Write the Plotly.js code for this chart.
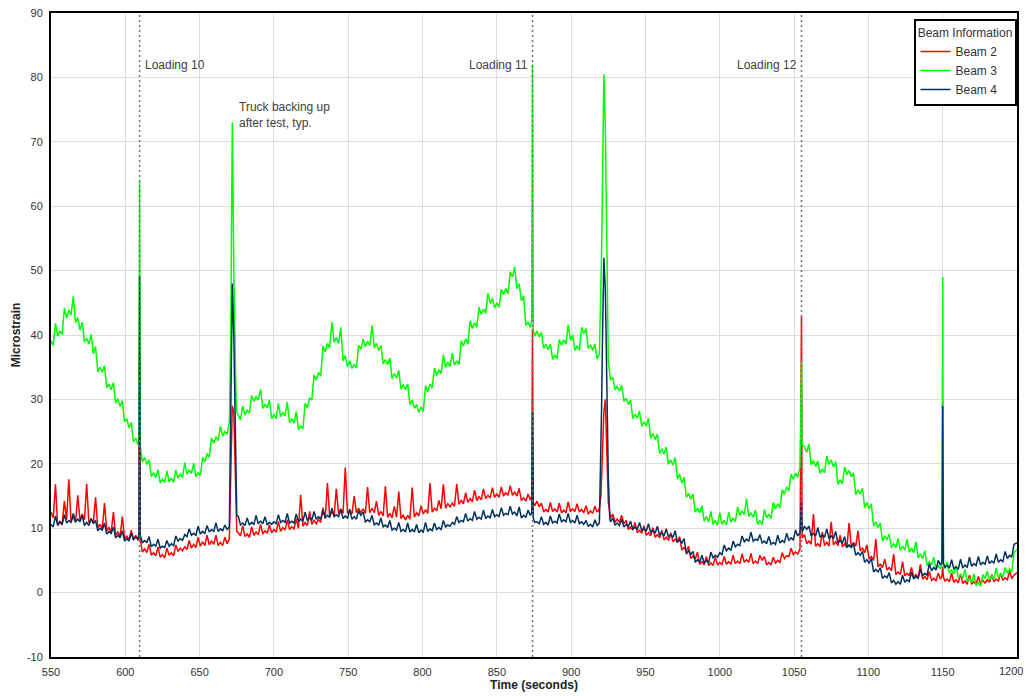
<!DOCTYPE html>
<html>
<head>
<meta charset="utf-8">
<script src="https://cdn.plot.ly/plotly-3.0.1.min.js"></script>
<style>
html,body{margin:0;padding:0;background:#fff;}
#chart{width:1026px;height:696px;}
</style>
</head>
<body>
<div id="chart"></div>
<script>
// ---- data (time in seconds, values in microstrain) ----
const time = [
550,553,556,559,562,565,568,571,574,577,
580,583,586,589,592,595,598,601,604,607,
610,613,616,619,622,625,628,631,634,637,
640,643,646,649,652,655,658,661,664,667,
670,673,676,679,682,685,688,691,694,697,
700,703,706,709,712,715,718,721,724,727,
730,733,736,739,742,745,748,751,754,757,
760,763,766,769,772,775,778,781,784,787,
790,793,796,799,802,805,808,811,814,817,
820,823,826,829,832,835,838,841,844,847,
850,853,856,859,862,865,868,871,874,877,
880,883,886,889,892,895,898,901,904,907,
910,913,916,919,922,925,928,931,934,937,
940,943,946,949,952,955,958,961,964,967,
970,973,976,979,982,985,988,991,994,997,
1000,1003,1006,1009,1012,1015,1018,1021,1024,1027,
1030,1033,1036,1039,1042,1045,1048,1051,1054,1057,
1060,1063,1066,1069,1072,1075,1078,1081,1084,1087,
1090,1093,1096,1099,1102,1105,1108,1111,1114,1117,
1120,1123,1126,1129,1132,1135,1138,1141,1144,1147,
1150,1153,1156,1159,1162,1165,1168,1171,1174,1177,
1180,1183,1186,1189,1192,1195,1198
];

const beam2 = [
12.5,16.8,11.0,14.2,17.6,11.8,15.1,12.2,16.9,11.4,
14.8,10.6,13.9,10.1,12.5,9.4,11.8,8.8,9.7,8.9,
8.3,6.8,7.5,6.2,7.1,5.9,6.9,6.2,7.4,6.9,
7.1,8.1,7.5,8.6,7.9,8.9,8.0,8.9,7.8,8.6,
8.4,28,9.3,10.4,9.1,10.2,9.4,10.6,9.6,10.5,
9.8,11.0,10.1,11.3,10.2,11.4,15.2,10.9,12.6,11.2,
11.4,13.2,17.0,12.6,16.1,13.0,19.4,12.8,15.0,13.1,
13.0,16.4,13.1,14.2,12.6,16.5,12.3,13.4,15.7,12.0,
12.0,16.3,12.4,13.5,12.9,17.0,13.1,14.3,16.8,13.8,
13.9,16.9,14.3,15.5,14.6,15.9,14.9,16.1,15.1,16.3,
15.3,16.4,15.5,16.6,15.6,16.2,14.7,15.3,41,14.2,
13.9,12.9,14.0,13.0,13.9,12.8,14.1,13.0,13.8,12.9,
13.5,12.7,13.4,13.0,28,14,12.2,11.4,12.0,11.2,
10.2,10.9,9.7,10.4,9.3,10.1,9.0,9.7,8.6,9.3,
8.3,8.7,7.0,7.2,5.7,6.3,4.8,5.6,4.6,5.5,
4.7,5.6,4.8,5.8,4.9,6.0,5.1,6.1,4.9,5.8,
5.6,4.7,5.5,5.0,6.2,5.7,6.9,6.3,6.8,9.0,
8.0,12.2,7.6,9.4,7.8,11.0,7.9,8.9,7.6,10.8,
7.8,9.6,6.9,7.4,5.6,8.3,4.4,5.2,3.9,6.0,
3.2,4.8,3.0,3.9,2.8,4.4,2.5,3.3,2.2,3.0,
4.0,2.1,3.0,2.0,2.9,1.8,2.7,1.7,2.5,1.9,
2.0,2.8,2.1,3.0,2.3,3.3,2.7
];

const beam3 = [
39.1,41.8,40.6,44.2,43.9,46.0,42.7,42.0,39.5,40.1,
38.2,35.0,35.2,32.4,32.6,30.1,29.8,27.0,26.4,24.0,
22.8,21.0,20.6,18.6,19.1,17.6,18.9,17.8,19.0,18.4,
20.2,19.0,20.1,18.6,21.0,21.6,24.0,24.2,25.8,25.0,
26.5,50,27.4,29.0,28.3,30.6,30.4,31.6,29.2,29.9,
27.6,29.4,28.0,29.6,27.0,28.1,25.9,29.4,30.2,33.8,
34.2,38.3,38.7,42.0,39.6,41.2,36.8,36.0,35.4,38.4,
39.4,39.0,41.5,38.7,38.4,36.2,36.4,34.0,34.5,32.3,
32.4,29.9,29.2,28.8,32.1,32.4,34.9,34.6,36.9,35.8,
37.2,36.0,39.1,39.4,42.2,41.9,44.3,44.0,46.5,45.7,
45.0,47.1,47.2,49.8,50.6,48.0,46.1,42.0,82,40.6,
40.4,38.6,38.6,36.9,39.3,39.2,41.6,40.0,38.3,41.2,
41.0,38.5,38.6,37.0,80.5,36,33.4,32.0,32.2,30.2,
29.9,27.7,28.2,26.5,27.1,24.7,24.6,22.3,22.6,20.6,
21.0,18.4,17.9,15.4,15.3,13.1,13.5,11.8,12.6,11.2,
12.4,11.2,12.5,11.6,13.3,12.7,14.6,12.4,12.8,11.2,
12.9,12.2,14.0,13.8,16.0,16.4,18.4,18.5,19.5,22.6,
23.1,20.5,20.4,19.2,21.2,20.6,20.3,17.5,19.5,19.0,
18.6,16.0,16.2,14.0,13.8,11.0,10.8,8.8,9.1,7.6,
8.4,7.2,8.3,6.9,7.9,6.0,6.5,4.8,5.5,4.2,
49,4.8,3.5,4.2,2.8,3.6,2.2,2.9,1.6,2.8,
3.3,2.6,3.8,2.9,3.9,3.7,6.2
];

const beam4 = [
10.6,11.9,11.0,12.1,11.2,12.3,11.4,12.0,10.9,11.5,
11.2,10.0,10.8,9.5,10.2,8.9,9.6,8.4,9.2,8.6,
9.0,8.1,8.7,7.5,8.3,7.2,8.1,7.6,8.8,8.4,
9.0,9.9,9.2,10.3,9.5,10.4,9.8,10.8,9.9,10.5,
10.2,40,11.9,10.8,11.6,10.9,12.0,11.1,11.8,10.9,
11.0,12.1,11.2,12.3,11.1,12.2,11.4,12.5,11.6,12.6,
11.8,12.8,12.0,13.1,12.1,12.9,11.9,12.9,11.8,12.7,
12.5,11.3,12.0,10.8,11.6,10.5,11.2,10.0,10.9,9.8,
10.8,9.8,10.6,9.7,10.9,9.9,10.8,10.1,11.2,10.5,
10.9,11.8,11.2,12.3,11.5,12.6,11.7,12.8,11.9,12.9,
12.1,13.2,12.3,13.4,12.5,13.3,12.0,12.8,28,11.0,
11.8,10.9,11.9,11.1,12.2,11.3,12.3,11.2,12.0,11.0,
11.2,10.6,11.3,10.8,52,18,11.6,10.8,11.4,10.6,
11.1,10.2,10.9,10.0,10.7,9.7,10.3,9.3,9.9,9.0,
9.6,8.2,8.4,6.5,6.4,5.1,5.8,5.0,6.3,5.8,
6.2,7.4,6.9,8.0,7.5,8.8,8.3,9.4,8.3,9.0,
8.0,8.7,7.8,8.9,8.1,9.2,8.5,9.7,9.3,10.3,
10.3,9.2,10.1,9.0,9.9,8.8,9.5,8.1,8.7,7.4,
7.6,6.2,6.4,5.1,5.3,3.6,3.9,2.6,3.1,1.9,
1.7,2.7,2.0,3.2,2.5,3.6,3.0,4.5,3.9,5.0,
29,4.2,5.1,4.0,5.2,4.3,5.5,4.5,5.6,4.7,
5.7,4.9,6.0,5.1,6.4,5.8,7.5
];

// in-between samples (the lower side of the signal noise)
const midTime = [
551.5,554.5,557.5,560.5,563.5,566.5,569.5,572.5,575.5,578.5,
581.5,584.5,587.5,590.5,593.5,596.5,599.5,602.5,605.5,608.5,
611.5,614.5,617.5,620.5,623.5,626.5,629.5,632.5,635.5,638.5,
641.5,644.5,647.5,650.5,653.5,656.5,659.5,662.5,665.5,668.5,
671.5,674.5,677.5,680.5,683.5,686.5,689.5,692.5,695.5,698.5,
701.5,704.5,707.5,710.5,713.5,716.5,719.5,722.5,725.5,728.5,
731.5,734.5,737.5,740.5,743.5,746.5,749.5,752.5,755.5,758.5,
761.5,764.5,767.5,770.5,773.5,776.5,779.5,782.5,785.5,788.5,
791.5,794.5,797.5,800.5,803.5,806.5,809.5,812.5,815.5,818.5,
821.5,824.5,827.5,830.5,833.5,836.5,839.5,842.5,845.5,848.5,
851.5,854.5,857.5,860.5,863.5,866.5,869.5,872.5,875.5,878.5,
881.5,884.5,887.5,890.5,893.5,896.5,899.5,902.5,905.5,908.5,
911.5,914.5,917.5,920.5,923.5,926.5,929.5,932.5,935.5,938.5,
941.5,944.5,947.5,950.5,953.5,956.5,959.5,962.5,965.5,968.5,
971.5,974.5,977.5,980.5,983.5,986.5,989.5,992.5,995.5,998.5,
1001.5,1004.5,1007.5,1010.5,1013.5,1016.5,1019.5,1022.5,1025.5,1028.5,
1031.5,1034.5,1037.5,1040.5,1043.5,1046.5,1049.5,1052.5,1055.5,1058.5,
1061.5,1064.5,1067.5,1070.5,1073.5,1076.5,1079.5,1082.5,1085.5,1088.5,
1091.5,1094.5,1097.5,1100.5,1103.5,1106.5,1109.5,1112.5,1115.5,1118.5,
1121.5,1124.5,1127.5,1130.5,1133.5,1136.5,1139.5,1142.5,1145.5,1148.5,
1151.5,1154.5,1157.5,1160.5,1163.5,1166.5,1169.5,1172.5,1175.5,1178.5,
1181.5,1184.5,1187.5,1190.5,1193.5,1196.5
];

const beam2Mid = [
11.6,10.4,10.5,11.3,11.0,10.9,11.2,11.3,10.8,10.9,
10.0,9.9,9.6,9.4,8.9,8.7,8.4,8.2,8.3,8.1,
6.3,6.2,5.8,5.7,5.5,5.4,5.8,5.7,6.4,6.5,
6.7,6.9,7.0,7.2,7.3,7.4,7.5,7.3,7.3,7.6,
25,13,8.8,8.7,8.6,8.9,9.0,9.1,9.2,9.3,
9.4,9.5,9.7,9.8,9.9,10.0,10.3,10.4,10.6,10.7,
10.9,11.5,11.8,12.0,12.2,12.3,12.3,12.2,12.4,12.4,
12.3,12.4,12.4,12.0,11.9,11.7,11.6,11.7,11.5,11.3,
11.4,11.7,11.9,12.2,12.3,12.5,12.7,13.0,13.1,13.3,
13.4,13.7,13.8,14.0,14.1,14.3,14.4,14.6,14.7,14.8,
14.8,15.0,15.1,15.1,15.0,14.3,14.2,14.4,13.5,13.3,
12.5,12.5,12.6,12.5,12.4,12.4,12.6,12.6,12.5,12.4,
12.2,12.3,12.5,18,27,11.6,10.9,10.9,10.7,9.8,
9.7,9.3,9.2,8.9,8.8,8.6,8.5,8.2,8.1,7.9,
7.8,6.6,6.5,5.3,5.2,4.4,4.3,4.2,4.2,4.3,
4.3,4.4,4.4,4.5,4.5,4.7,4.7,4.5,4.5,5.0,
4.3,4.3,4.6,4.7,5.3,5.6,5.9,6.0,8.5,7.6,
7.5,7.2,7.1,7.3,7.2,7.4,7.3,7.1,7.0,7.1,
7.2,6.5,6.2,5.2,5.0,4.0,3.9,3.5,3.4,2.8,
2.8,2.6,2.6,2.4,2.3,2.1,2.0,1.9,1.8,2.1,
1.8,1.7,1.6,1.5,1.4,1.3,1.3,1.3,1.4,1.5,
1.6,1.7,1.8,1.9,2.0,2.2
];

const beam3Mid = [
38.4,39.8,40.1,42.6,43.1,41.9,40.8,38.9,38.6,37.1,
34.3,34.2,31.8,31.5,29.4,28.9,26.5,25.6,23.4,23.0,
20.3,19.9,18.0,17.9,17.0,17.1,17.2,17.1,17.8,17.9,
18.4,18.5,18.0,18.2,20.3,21.0,23.2,23.6,24.3,24.6,
58,30,26.8,27.6,27.9,29.7,29.9,28.6,28.7,27.0,
27.0,27.3,27.4,26.4,26.3,25.3,25.4,28.7,29.9,33.0,
33.6,37.4,38.0,38.9,38.7,36.0,35.1,34.8,34.9,37.8,
38.2,38.4,38.0,37.6,35.5,35.4,33.2,33.3,31.6,31.5,
29.2,28.6,28.0,28.1,31.2,31.8,33.7,34.0,35.0,35.1,
35.3,35.4,38.3,38.6,41.0,41.2,43.2,43.4,44.9,44.2,
44.3,46.3,46.4,49.0,47.2,45.3,41.5,41.2,39.8,39.7,
37.9,37.7,36.2,36.3,38.4,38.6,39.2,37.6,37.6,40.2,
37.9,37.6,36.3,53,62,33.0,31.5,31.3,29.7,29.2,
27.0,27.1,25.8,25.9,24.0,23.8,21.6,21.5,19.9,19.8,
17.6,17.0,14.8,14.5,12.5,12.4,11.1,11.0,10.6,10.5,
10.6,10.5,10.9,11.0,12.0,12.1,11.8,11.7,10.6,10.5,
11.6,11.5,13.0,13.2,15.3,15.8,17.6,17.9,23.0,21.8,
19.8,19.6,18.5,18.6,19.9,19.5,16.8,16.9,18.3,18.0,
15.2,15.3,13.2,13.0,10.3,10.1,8.0,8.2,7.0,7.0,
6.6,6.6,6.3,6.2,5.4,5.3,4.2,4.3,3.6,3.7,
3.8,3.0,2.9,2.3,2.2,1.7,1.6,1.1,1.0,2.2,
2.0,2.1,2.3,2.4,3.0,3.2
];

const beam4Mid = [
10.2,10.5,10.6,10.8,10.9,11.0,11.0,10.4,10.4,10.7,
9.6,9.7,9.1,9.2,8.5,8.5,8.0,8.0,8.2,8.4,
7.7,7.8,7.1,7.2,6.9,7.0,7.2,7.3,8.0,8.1,
8.7,8.9,8.9,9.1,9.2,9.4,9.5,9.5,9.6,9.8,
40,18,10.5,10.4,10.5,10.6,10.7,10.7,10.5,10.6,
10.7,10.9,10.9,10.8,10.8,11.0,11.1,11.2,11.3,11.4,
11.4,11.6,11.7,11.8,11.8,11.5,11.5,11.4,11.4,12.0,
11.0,11.0,10.5,10.5,10.2,10.1,9.7,9.7,9.5,9.4,
9.4,9.4,9.3,9.4,9.5,9.6,9.8,9.8,10.2,10.3,
10.6,10.9,11.0,11.1,11.2,11.4,11.4,11.5,11.6,11.8,
11.8,12.0,12.1,12.2,11.9,11.6,11.7,12.0,10.9,10.7,
10.6,10.5,10.8,10.8,11.0,11.0,10.9,10.8,10.7,10.6,
10.3,10.2,10.4,29,40,11.0,10.5,10.4,10.2,10.3,
9.8,9.8,9.6,9.5,9.3,9.2,8.9,8.8,8.6,8.6,
7.8,7.7,6.0,5.9,4.7,4.7,4.6,4.6,5.4,5.5,
5.9,6.5,6.6,7.1,7.3,7.9,8.0,8.0,8.1,7.7,
7.6,7.5,7.5,7.7,7.8,8.1,8.2,8.8,9.4,9.8,
8.8,8.8,8.6,8.6,8.4,8.4,7.7,7.7,7.0,7.0,
5.8,5.8,4.7,4.6,3.2,3.2,2.2,2.3,1.5,1.3,
1.3,1.6,1.7,2.1,2.2,2.6,2.7,3.4,3.5,4.3,
3.9,3.8,3.7,3.6,3.8,3.9,4.1,4.2,4.3,4.4,
4.5,4.6,4.7,4.8,5.3,5.5
];

// extra samples around the short spikes
const extraTime  = [609.2,609.6,671,672,674,675,873.5,874.5,920,921,923,924,926,1054.5,1055,1055.3,1149.5,1150.5,1200];
const beam2Extra = [8.6,37,20,29,18,9.5,15.0,14.0,15,22,30,22,12,25,43,12,2.6,2.4,3.1];
const beam3Extra = [23.6,64,40,73,32,28,42.3,40.8,45,62,72,50,34,28,36,24,4.6,4.4,6.7];
const beam4Extra = [9.2,49,30,48,25,12,12.4,11.6,20,38,47,32,11.5,12,14,10,4.8,4.5,7.7];

const seriesNames = ['Beam 2','Beam 3','Beam 4'];
const loadingTimes = [609.6, 874, 1055];
const loadingLabels = ['Loading 10','Loading 11','Loading 12'];
const noteText = 'Truck backing up<br>after test, typ.';
const xTicks = [550,600,650,700,750,800,850,900,950,1000,1050,1100,1150,1200];
const xTickLabels = ['550','600','650','700','750','800','850','900','950','1000','1050','1100','1150',''];
const lastXLabel = '1200';
const yTicks = [-10,0,10,20,30,40,50,60,70,80,90];

function merge(base, mid, extra){
  const pts = time.map((t,i)=>[t, base[i]])
    .concat(midTime.map((t,i)=>[t, mid[i]]))
    .concat(extraTime.map((t,i)=>[t, extra[i]]));
  pts.sort((a,b)=>a[0]-b[0]);
  return {x: pts.map(p=>p[0]), y: pts.map(p=>p[1])};
}

const colors = ['#ff0000','#00ff00','#00305f'];
const sets = [
  merge(beam2, beam2Mid, beam2Extra),
  merge(beam3, beam3Mid, beam3Extra),
  merge(beam4, beam4Mid, beam4Extra)
];
const traces = sets.map((s,i)=>({
  type:'scatter', mode:'lines', x:s.x, y:s.y, name:seriesNames[i],
  line:{color:colors[i], width:1.5}, hoverinfo:'skip'
}));

const shapes = loadingTimes.map(t=>({
  type:'line', xref:'x', yref:'paper', x0:t, x1:t, y0:0, y1:1,
  line:{color:'#707070', width:1.5, dash:'2px,3px'}, layer:'above'
}));

const fontFam = '"Liberation Sans", Arial, sans-serif';
const annotations = [
  {x:loadingTimes[0], y:82, xref:'x', yref:'y', text:loadingLabels[0], xanchor:'left', xshift:3, showarrow:false},
  {x:loadingTimes[1], y:82, xref:'x', yref:'y', text:loadingLabels[1], xanchor:'right', xshift:-3, showarrow:false},
  {x:loadingTimes[2], y:82, xref:'x', yref:'y', text:loadingLabels[2], xanchor:'right', xshift:-3, showarrow:false},
  {x:675, y:76.8, xref:'x', yref:'y', text:noteText, xanchor:'left', yanchor:'top', align:'left', showarrow:false}
].map(a=>Object.assign(a,{font:{family:fontFam, size:12, color:'#404040'}}));
annotations.push({
  x:1, xref:'paper', y:0, yref:'paper', xanchor:'right', yanchor:'top', xshift:8, yshift:-6,
  text:lastXLabel, showarrow:false, font:{family:fontFam, size:11, color:'#333'}
});

const axisCommon = {
  showline:true, linecolor:'#000', linewidth:2, mirror:true,
  showgrid:true, gridcolor:'#dcdcdc', gridwidth:1, zeroline:false,
  ticks:'outside', ticklen:4, tickcolor:'rgba(0,0,0,0)',
  tickfont:{family:fontFam, size:11, color:'#333'}
};

const layout = {
  width:1026, height:696,
  margin:{l:51, r:9, t:13, b:39},
  paper_bgcolor:'#fff', plot_bgcolor:'#fff',
  font:{family:fontFam, color:'#333'},
  showlegend:true,
  legend:{
    x:0.9995, xanchor:'right', y:0.99, yanchor:'top',
    bgcolor:'#fff', bordercolor:'#000', borderwidth:2,
    font:{family:fontFam, size:12, color:'#333'},
    title:{text:'Beam Information', side:'top center', font:{family:fontFam, size:12, color:'#333'}},
    tracegroupgap:0
  },
  xaxis:Object.assign({}, axisCommon, {
    range:[550,1200], tickmode:'array', tickvals:xTicks, ticktext:xTickLabels,
    title:{text:'<b>Time (seconds)</b>', font:{family:fontFam, size:12, color:'#222'}, standoff:2}
  }),
  yaxis:Object.assign({}, axisCommon, {
    range:[-10,90], tickmode:'array', tickvals:yTicks, ticktext:yTicks.map(String),
    title:{text:'<b>Microstrain</b>', font:{family:fontFam, size:12, color:'#222'}, standoff:4}
  }),
  shapes:shapes,
  annotations:annotations
};

Plotly.newPlot('chart', traces, layout, {displayModeBar:false, staticPlot:true});
</script>
</body>
</html>
